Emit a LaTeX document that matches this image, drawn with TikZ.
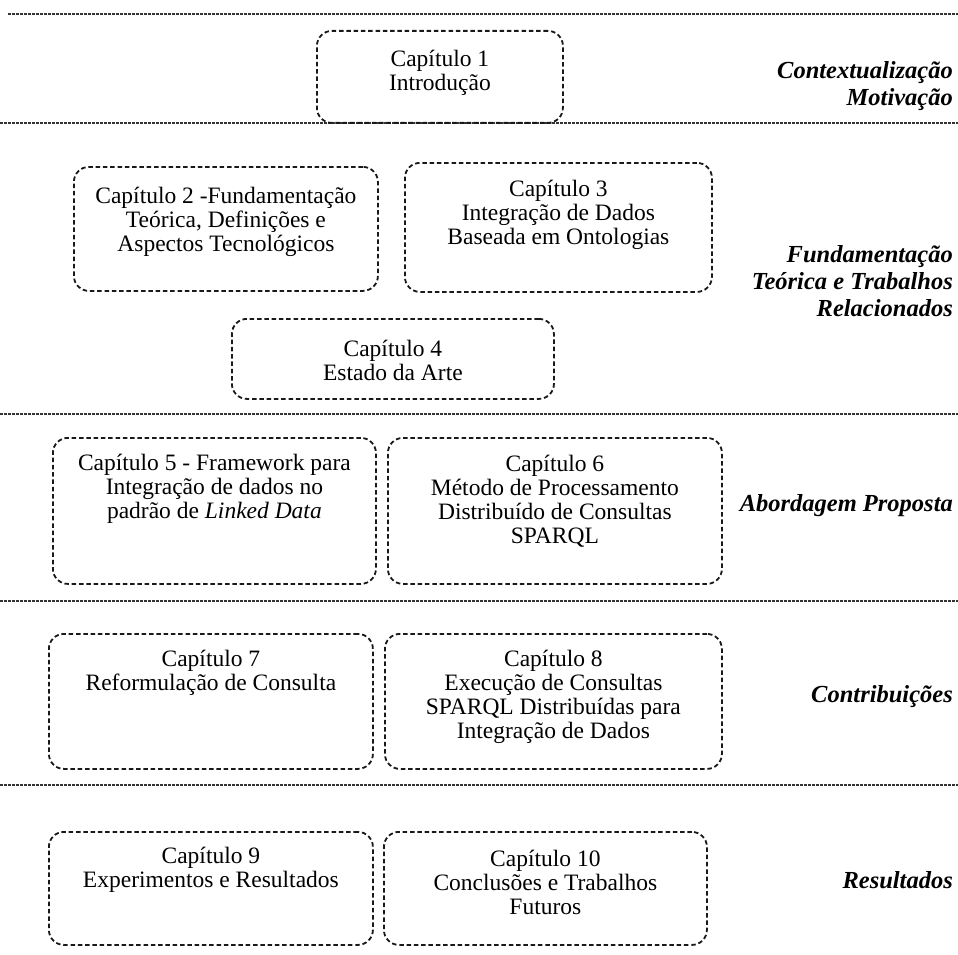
\documentclass[tikz,border=0pt]{standalone}
\usepackage{fontspec}
\setmainfont{Liberation Serif}
\usetikzlibrary{calc}

\tikzset{
  chapbox/.style={draw=black!90, line width=1.8pt, dash pattern=on 4.5pt off 2.8pt,
    rounded corners=15pt, inner sep=0pt, anchor=north west},
  chaptext/.style={align=center, inner sep=0pt, text=black,
    font=\fontsize{23.5pt}{24pt}\selectfont},
  parttext/.style={align=right, inner sep=0pt, anchor=east, text=black,
    font=\fontsize{24.5pt}{27pt}\selectfont\bfseries\itshape},
  divider/.style={draw=black!80, line width=1.2pt, dash pattern=on 3pt off 1pt}
}

% box: name, x, y, width, height
\newcommand{\chapterbox}[5]{%
  \node[chapbox, minimum width=#4pt, minimum height=#5pt] (#1) at (#2,#3) {};}

\begin{document}
\begin{tikzpicture}[x=1pt, y=-1pt]
  \useasboundingbox (0,0) rectangle (958,955);

  % section dividers
  \coordinate (d0l) at (8,14);    \coordinate (d0r) at (958,14);
  \coordinate (d1l) at (0,123);   \coordinate (d1r) at (958,123);
  \coordinate (d2l) at (0,414);   \coordinate (d2r) at (958,414);
  \coordinate (d3l) at (0,601);   \coordinate (d3r) at (958,601);
  \coordinate (d4l) at (0,785);   \coordinate (d4r) at (958,785);
  \foreach \i in {0,...,4} { \draw[divider] (d\i l) -- (d\i r); }

  % chapter boxes
  \chapterbox{b1}{316}{30}{246}{92}
  \chapterbox{b2}{73}{166}{304}{124}
  \chapterbox{b3}{404}{162}{307}{129}
  \chapterbox{b4}{231}{318}{322}{80}
  \chapterbox{b5}{52}{437}{323}{146}
  \chapterbox{b6}{387}{437}{334}{146}
  \chapterbox{b7}{48}{633}{324}{135}
  \chapterbox{b8}{384}{633}{337}{135}
  \chapterbox{b9}{48}{831}{324}{113}
  \chapterbox{b10}{383}{831}{323}{113}

  % chapter titles
  \node[chaptext] (t1) at ($(b1.center)+(0,-4)$) {Capítulo 1\\Introdução};
  \node[chaptext] (t2) at (b2.center |- 0,222) {Capítulo 2 -Fundamentação\\Teórica, Definições e\\Aspectos Tecnológicos};
  \node[chaptext] (t3) at (b3.center |- 0,215) {Capítulo 3\\Integração de Dados\\Baseada em Ontologias};
  \node[chaptext] (t4) at (b4.center |- 0,360) {Capítulo 4\\Estado da Arte};
  \node[chaptext] (t5) at (b5.center |- 0,489) {Capítulo 5 - Framework para\\Integração de dados no\\padrão de \textit{Linked Data}};
  \node[chaptext] (t6) at (b6.center |- 0,501) {Capítulo 6\\Método de Processamento\\Distribuído de Consultas\\SPARQL};
  \node[chaptext] (t7) at (b7.center |- 0,673) {Capítulo 7\\Reformulação de Consulta};
  \node[chaptext] (t8) at (b8.center |- 0,697) {Capítulo 8\\Execução de Consultas\\SPARQL Distribuídas para\\Integração de Dados};
  \node[chaptext] (t9) at (b9.center |- 0,870) {Capítulo 9\\Experimentos e Resultados};
  \node[chaptext] (t10) at (b10.center |- 0,882) {Capítulo 10\\Conclusões e Trabalhos\\Futuros};

  % part labels on the right
  \node[parttext] (p1) at (953,86) {Contextualização\\Motivação};
  \node[parttext] (p2) at (953,281) {Fundamentação\\Teórica e Trabalhos\\Relacionados};
  \node[parttext] (p3) at (953,506) {Abordagem Proposta};
  \node[parttext] (p4) at (953,697) {Contribuições};
  \node[parttext] (p5) at (953,880) {Resultados};
\end{tikzpicture}
\end{document}
